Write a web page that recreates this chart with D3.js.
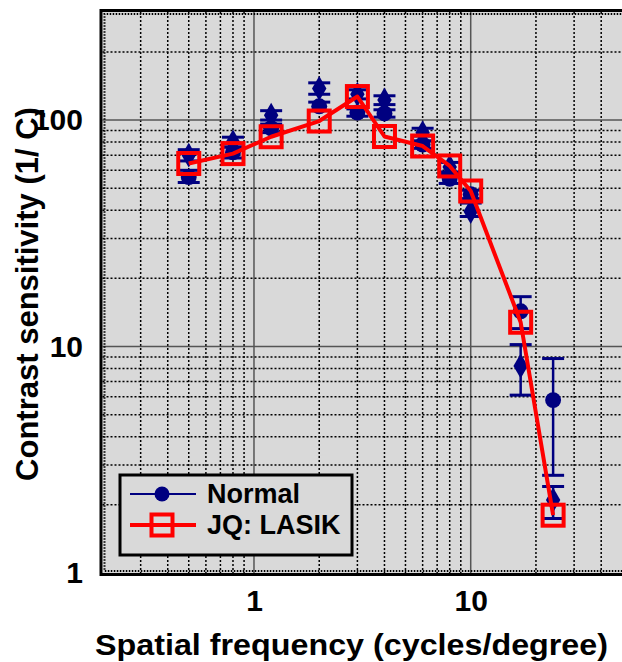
<!DOCTYPE html>
<html><head><meta charset="utf-8">
<script src="https://cdn.jsdelivr.net/npm/d3@7"></script>
<style>
html,body{margin:0;padding:0;background:#fff;}
svg{display:block;font-family:"Liberation Sans",Arial,sans-serif;font-weight:bold;}
</style></head>
<body>
<svg id="chart" width="622" height="662"></svg>
<script>
// ---- data ----
const freqs = [0.5, 0.8, 1.2, 2, 3, 4, 6, 8, 10, 17, 24];
const jqLasik = [64.3, 71.1, 84.4, 99, 127, 84.6, 76.8, 62.7, 48.6, 12.8, 1.80];
const normalMean = [56, 72, 92, 115, 108, 107, 78, 55, 47, 14.3, 5.8];
const normalLow  = [53, 68, 88, 110, 104, 103, 75, 52.5, 45, 12.0, 2.7];
const normalHigh = [60, 76, 96, 120, 112, 111, 81, 57.5, 49, 16.6, 8.85];
const normal2Mean = [70, 80, 105, 138, 130, 122.5, 88, 62, 39.5, 8.2, 2.1];
const normal2Low  = [66, 76, 100, 130, 124, 117, 85, 59, 37.5, 6.1, 1.74];
const normal2High = [74, 84, 110, 146, 136, 128, 92, 65, 43, 10.2, 2.41];
const xTickLabels = [1, 10];
const yTickLabels = [1, 10, 100];
const xTitle = "Spatial frequency (cycles/degree)";
const yTitle = "Contrast sensitivity (1/ C)";
const legendLabels = ["Normal", "JQ: LASIK"];

// ---- layout ----
const svg = d3.select("#chart");
const L = 102.5, R = 622.2, T = 12, B = 573;
const x = d3.scaleLog().domain([0.2, 50]).range([L, R]);
const y = d3.scaleLog().domain([1, 300]).range([B, T]);
const NAVY = "#000080", RED = "#ff0000", BG = "#d9d9d9";

svg.append("rect").attr("x", L).attr("y", T).attr("width", R - L).attr("height", B - T).attr("fill", BG);

const g = svg.append("g");
const xt = x.ticks().filter(v => v > 0.2 && v < 50);
const yt = y.ticks().filter(v => v > 1 && v < 300);
const isMajor = v => Math.abs(Math.log10(v) - Math.round(Math.log10(v))) < 1e-9;

g.selectAll("line.xg").data(xt).join("line")
  .attr("x1", d => x(d)).attr("x2", d => x(d)).attr("y1", T).attr("y2", B)
  .attr("stroke", d => isMajor(d) ? "#555" : "#000")
  .attr("stroke-width", 1.5)
  .attr("stroke-dasharray", d => isMajor(d) ? null : "2,2");
g.selectAll("line.yg").data(yt).join("line")
  .attr("y1", d => y(d)).attr("y2", d => y(d)).attr("x1", L).attr("x2", R)
  .attr("stroke", d => isMajor(d) ? "#555" : "#000")
  .attr("stroke-width", 1.5)
  .attr("stroke-dasharray", d => isMajor(d) ? null : "2,2");

// frame
svg.append("path").attr("d", `M${R+5},${T-1.5}H${L-1.5}V${B+1.5}H${R+5}`)
  .attr("fill", "none").attr("stroke", "#000").attr("stroke-width", 3);
svg.append("path").attr("d", `M${R+5},${T+2}H${L+2}V${B-2}H${R+5}`)
  .attr("fill", "none").attr("stroke", "#000").attr("stroke-width", 2).attr("stroke-dasharray", "1.5,1.5");

// axes labels
const ax = svg.append("g").attr("transform", `translate(0,${B})`)
  .call(d3.axisBottom(x).tickValues(xTickLabels).tickSize(0).tickPadding(17).tickFormat(d3.format("d")));
ax.select(".domain").remove();
ax.selectAll("text").attr("font-size", 30).attr("font-family", "Liberation Sans, Arial").attr("font-weight", "bold").attr("fill", "#000");
const ay = svg.append("g").attr("transform", `translate(${L},0)`)
  .call(d3.axisLeft(y).tickValues(yTickLabels).tickSize(0).tickPadding(19.5).tickFormat(d3.format("d")));
ay.select(".domain").remove();
ay.selectAll("text").attr("font-size", 30).attr("font-family", "Liberation Sans, Arial").attr("font-weight", "bold").attr("fill", "#000");

svg.append("text").attr("x", 351.5).attr("y", 655).attr("text-anchor", "middle")
  .attr("font-size", 29.5).attr("textLength", 513).attr("lengthAdjust", "spacingAndGlyphs").text(xTitle);
svg.append("text").attr("transform", `translate(37.5,294) rotate(-90)`).attr("text-anchor", "middle")
  .attr("font-size", 31).text(yTitle);

// error bars + markers helper
function errSeries(means, lows, highs, shape) {
  const gg = svg.append("g");
  const d = freqs.map((f, i) => ({f, m: means[i], lo: lows[i], hi: highs[i]}));
  gg.selectAll("line.v").data(d).join("line")
    .attr("x1", e => x(e.f)).attr("x2", e => x(e.f))
    .attr("y1", e => y(e.lo)).attr("y2", e => y(e.hi))
    .attr("stroke", NAVY).attr("stroke-width", 2.5);
  ["lo", "hi"].forEach(k => {
    gg.selectAll("line.c" + k).data(d).join("line")
      .attr("x1", e => x(e.f) - 11).attr("x2", e => x(e.f) + 11)
      .attr("y1", e => y(e[k])).attr("y2", e => y(e[k]))
      .attr("stroke", NAVY).attr("stroke-width", 3);
  });
  gg.selectAll("path.m").data(d).join("path")
    .attr("transform", e => `translate(${x(e.f)},${y(e.m)})`)
    .attr("d", d3.symbol().type(shape).size(shape === d3.symbolCircle ? 200 : 180))
    .attr("fill", NAVY);
}
errSeries(normal2Mean, normal2Low, normal2High, d3.symbolDiamond);
errSeries(normalMean, normalLow, normalHigh, d3.symbolCircle);

// JQ line + squares
const jq = freqs.map((f, i) => ({f, v: jqLasik[i]}));
svg.append("path").datum(jq)
  .attr("d", d3.line().x(d => x(d.f)).y(d => y(d.v)))
  .attr("fill", "none").attr("stroke", RED).attr("stroke-width", 4).attr("stroke-linejoin", "round");
svg.selectAll("rect.sq").data(jq).join("rect")
  .attr("x", d => x(d.f) - 10.5).attr("y", d => y(d.v) - 10.5)
  .attr("width", 21).attr("height", 21)
  .attr("fill", "none").attr("stroke", RED).attr("stroke-width", 4);

// legend
const lg = svg.append("g");
lg.append("rect").attr("x", 120).attr("y", 475).attr("width", 232).attr("height", 80)
  .attr("fill", BG).attr("stroke", "#000").attr("stroke-width", 3);
lg.append("line").attr("x1", 130).attr("x2", 196).attr("y1", 494).attr("y2", 494).attr("stroke", NAVY).attr("stroke-width", 2);
lg.append("circle").attr("cx", 162).attr("cy", 494).attr("r", 7.5).attr("fill", NAVY);
lg.append("line").attr("x1", 130).attr("x2", 196).attr("y1", 525).attr("y2", 525).attr("stroke", RED).attr("stroke-width", 4);
lg.append("rect").attr("x", 151.5).attr("y", 514.5).attr("width", 21).attr("height", 21)
  .attr("fill", "none").attr("stroke", RED).attr("stroke-width", 4);
lg.append("text").attr("x", 207).attr("y", 503).attr("font-size", 27).text(legendLabels[0]);
lg.append("text").attr("x", 207).attr("y", 534).attr("font-size", 27).text(legendLabels[1]);
</script>
</body></html>
